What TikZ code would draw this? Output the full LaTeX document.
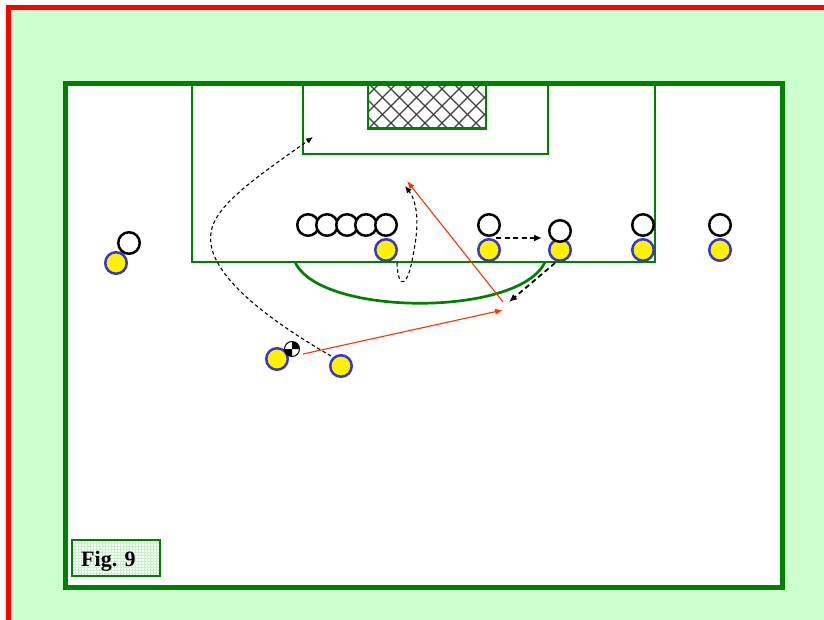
\documentclass[tikz,border=0pt]{standalone}
\usepackage{fontspec}
\setmainfont{Liberation Serif}
\usetikzlibrary{arrows.meta}
\definecolor{pitchbg}{HTML}{CCFFCC}
\definecolor{linegreen}{HTML}{008000}
\definecolor{frame}{HTML}{FF0000}
\definecolor{runred}{HTML}{FF3300}
\definecolor{rimblue}{HTML}{3838C8}
\definecolor{netgrey}{HTML}{404040}
\definecolor{gridgreen}{HTML}{C6F2C6}
\tikzset{
  attacker/.style={circle,draw=rimblue,fill=yellow,line width=2.5pt,minimum size=21.5pt,inner sep=0pt},
  defender/.style={circle,draw=black,fill=white,line width=2.5pt,minimum size=21.5pt,inner sep=0pt},
  fieldline/.style={draw=linegreen,line width=2.7pt},
  runpath/.style={line width=1.1pt,dash pattern=on 3.5pt off 2.8pt,-{Latex[length=7pt,width=6pt]}},
  shortrun/.style={line width=1.8pt,dash pattern=on 5pt off 3.5pt,-{Latex[length=8pt,width=7pt]}},
  passline/.style={draw=runred,line width=1.1pt,-{Latex[length=8pt,width=6pt]}},
}
\begin{document}
\begin{tikzpicture}[x=1pt,y=-1pt]
\useasboundingbox (0,0) rectangle (824,620);
\clip (0,0) rectangle (824,620);
% background and outer frame
\fill[pitchbg] (8.5,7.5) rectangle (830,630);
\draw[frame,line width=5pt] (8.5,630) -- (8.5,7.5) -- (830,7.5);
% pitch
\fill[white] (65.5,83.5) rectangle (782.5,587.5);
\draw[linegreen,line width=5pt] (65.5,83.5) rectangle (782.5,587.5);
% penalty area and goal area
\draw[fieldline] (192,83.5) -- (192,262) -- (655,262) -- (655,83.5);
\draw[fieldline] (303,83.5) -- (303,154) -- (548,154) -- (548,83.5);
\draw[fieldline] (295,262) .. controls (320,317) and (520,317) .. (545,262);
% goal net
\begin{scope}
  \clip (368,83.5) rectangle (486,128.5);
  \foreach \k in {-3,...,8}{
    \draw[netgrey,line width=1.1pt] (368+17*\k,83) -- (368+17*\k+46,129);
    \draw[netgrey,line width=1.1pt] (368+17*\k,129) -- (368+17*\k+46,83);
  }
\end{scope}
\draw[fieldline] (368,83.5) rectangle (486,128.5);
% label box
\fill[white] (72,540) rectangle (160,576);
\begin{scope}
  \clip (72,540) rectangle (160,576);
  \foreach \g in {0,...,30}{
    \draw[gridgreen,line width=0.8pt] (72+3*\g,540) -- (72+3*\g,576);
  }
  \foreach \g in {0,...,12}{
    \draw[gridgreen,line width=0.8pt] (72,540+3*\g) -- (160,540+3*\g);
  }
\end{scope}
\draw[linegreen,line width=1.3pt] (72,540) rectangle (160,576);
\node[font=\bfseries\fontsize{22}{24}\selectfont,anchor=base west,inner sep=0pt] (figlabel) at (81,566) {Fig. 9};
% attacking players
\node[attacker] (a1) at (116,263) {};
\node[attacker] (a2) at (386,250) {};
\node[attacker] (a3) at (489,250) {};
\node[attacker] (a4) at (560,250) {};
\node[attacker] (a5) at (643,250) {};
\node[attacker] (a6) at (720,250) {};
\node[attacker] (a7) at (277,359) {};
\node[attacker] (a8) at (341,366) {};
% defenders
\node[defender] (d1) at (129,243) {};
\node[defender] (w1) at (308,225) {};
\node[defender] (w2) at (327,225) {};
\node[defender] (w3) at (347,225) {};
\node[defender] (w4) at (366,225) {};
\node[defender] (w5) at (386,225) {};
\node[defender] (d2) at (489,225) {};
\node[defender] (d3) at (560,231) {};
\node[defender] (d4) at (643,225) {};
\node[defender] (d5) at (720,225) {};
% ball
\coordinate (ball) at (292,349);
\fill[white] (ball) circle (7.5);
\fill[black] (ball) -- ++(7.5,0) arc (0:-90:7.5) -- cycle;
\fill[black] (ball) -- ++(-7.5,0) arc (180:90:7.5) -- cycle;
\draw[black,line width=1pt] (ball) circle (7.5);
% run and pass targets
\coordinate (runA) at (313,137);
\coordinate (runAstart) at (331,356);
\coordinate (runB) at (405,186);
\coordinate (runBstart) at (397,263);
\coordinate (passA) at (503,310);
\coordinate (passAstart) at (303,354);
\coordinate (passB) at (407,181);
\coordinate (passBstart) at (503,302);
\coordinate (shiftA) at (542,238);
\coordinate (shiftAstart) at (496,238);
\coordinate (shiftB) at (509,302);
\coordinate (shiftBstart) at (555,263);
% runs
\draw[runpath] (runAstart) .. controls (260,315) and (205,270) .. (211,233)
  .. controls (214,205) and (260,175) .. (runA);
\draw[runpath] (runBstart) .. controls (398,290) and (408,290) .. (414,250)
  .. controls (420,220) and (416,200) .. (runB);
\draw[shortrun] (shiftAstart) -- (shiftA);
\draw[shortrun] (shiftBstart) -- (shiftB);
% passes
\draw[passline] (passAstart) -- (passA);
\draw[passline] (passBstart) -- (passB);
\end{tikzpicture}
\end{document}
